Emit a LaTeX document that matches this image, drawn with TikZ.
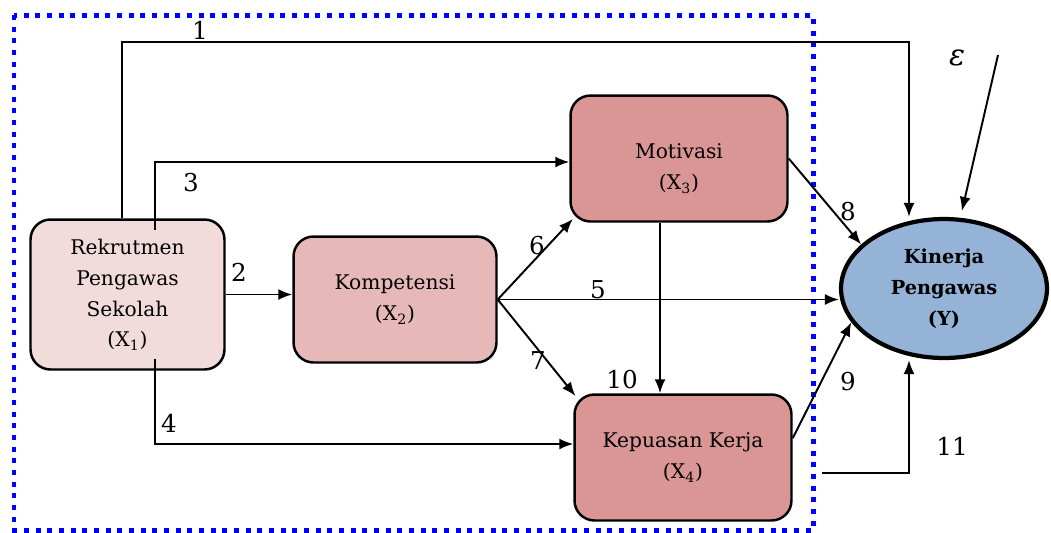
\documentclass[tikz,border=0pt]{standalone}
\usepackage{fontspec}
\setmainfont{DejaVu Serif}
\usetikzlibrary{arrows.meta,shapes.geometric}
\definecolor{rekpink}{HTML}{F2DCDB}
\definecolor{kompink}{HTML}{E6B9B8}
\definecolor{motred}{HTML}{D99694}
\definecolor{kinblue}{HTML}{95B3D7}

\begin{document}
\begin{tikzpicture}[
      x=0.02cm,
      y=-0.02cm,
      varbox/.style={
        draw=black,
        line width=1.4pt,
        rounded corners=0.4cm,
        align=center,
        inner sep=0pt,
        font=\fontsize{11.5}{17.6}\selectfont
      },
      target/.style={
        ellipse,
        draw=black,
        line width=2.4pt,
        fill=kinblue,
        align=center,
        inner sep=0pt,
        minimum width=4.12cm,
        minimum height=2.78cm,
        font=\fontsize{11}{17.6}\selectfont\bfseries
      },
      link/.style={
        -{Latex[length=2.8mm,width=2.2mm]},
        draw=black,
        line width=1.1pt
      },
      coef/.style={font=\fontsize{14}{16}\selectfont},
      frame/.style={
        draw=blue,
        line width=0.1cm,
        dash pattern=on 2.84pt off 3.8pt
      }
    ]
    \useasboundingbox (0,0) rectangle (1051,532);
    \draw[frame] (14,15) rectangle (813,530);

    \node[varbox, fill=rekpink, minimum width=3.88cm, minimum height=3.0cm]
      (rek) at (127.5,294.5) {Rekrutmen\\Pengawas\\Sekolah\\(X\textsubscript{1})};
    \node[varbox, fill=kompink, minimum width=4.06cm, minimum height=2.52cm]
      (kom) at (395,299.5) {Kompetensi\\(X\textsubscript{2})};
    \node[varbox, fill=motred, minimum width=4.34cm, minimum height=2.52cm]
      (mot) at (679,158.5) {\mbox{}\\[2.5pt]Motivasi\\(X\textsubscript{3})};
    \node[varbox, fill=motred, minimum width=4.34cm, minimum height=2.52cm]
      (kep) at (683,457.5) {Kepuasan Kerja\\(X\textsubscript{4})};
    \node[target] (kin) at (944,288.5) {Kinerja\\Pengawas\\(Y)};

    \coordinate (c1a) at (122,42);
    \coordinate (c1b) at (909,42);
    \coordinate (c3a) at (155,230);
    \coordinate (c3b) at (155,162);
    \coordinate (c4a) at (155,359);
    \coordinate (c4b) at (155,444);
    \coordinate (c11a) at (822,473);
    \coordinate (c11b) at (909,473);
    \coordinate (ce) at (998,55);

    \draw[link] (rek.north -| c1a) -- (c1a) -- (c1b) -- (c1b |- kin.north);
    \draw[link] (rek.east) -- (rek.east -| kom.west);
    \draw[link] (c3a) -- (c3b) -- (c3b -| mot.west);
    \draw[link] (c4a) -- (c4b) -- (c4b -| kep.west);
    \draw[link] (kom.east) -- (kom.east -| kin.west);
    \draw[link, shorten >=-3pt] (kom.east) -- (mot.south west);
    \draw[link, shorten >=-2pt] (kom.east) -- (kep.north west);
    \draw[link] (mot.east) -- (kin.152);
    \draw[link] (kep.10) -- (kin.200);
    \draw[link] ([xshift=-0.38cm]mot.south) -- ([xshift=-0.38cm]mot.south |- kep.north);
    \draw[link] (c11a) -- (c11b) -- (c11b |- kin.south);
    \draw[link, shorten >=4pt] (ce) -- (kin.77);

    \node[coef] (l1) at (200,30) {1};
    \node[coef] (l2) at (239,272) {2};
    \node[coef] (l3) at (191,183) {3};
    \node[coef] (l4) at (169,423) {4};
    \node[coef] (l5) at (598,290) {5};
    \node[coef] (l6) at (537,246) {6};
    \node[coef] (l7) at (538,361) {7};
    \node[coef] (l8) at (848,212) {8};
    \node[coef] (l9) at (848,382) {9};
    \node[coef] (l10) at (622,380) {10};
    \node[coef] (l11) at (952,446) {11};
    \node[coef, font=\fontsize{17}{20}\selectfont\itshape] (eps) at (957,58) {ε};
  \end{tikzpicture}
\end{document}
